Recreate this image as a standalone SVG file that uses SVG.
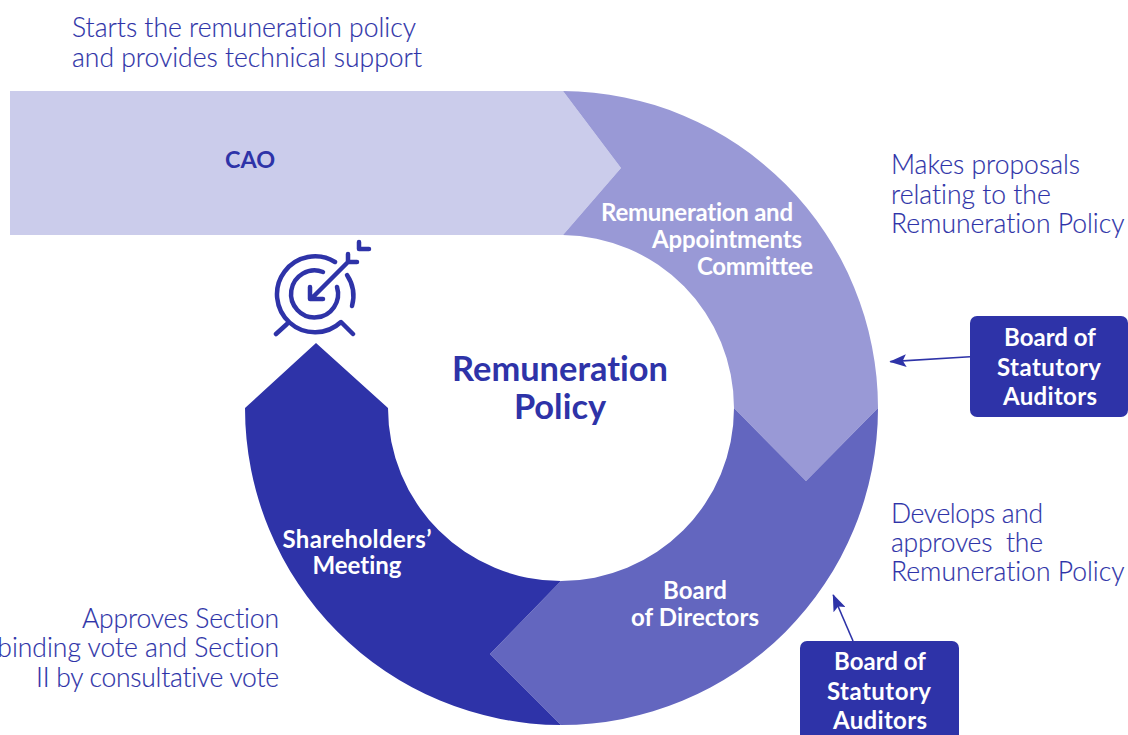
<svg xmlns="http://www.w3.org/2000/svg" width="1128" height="735" viewBox="0 0 1128 735">
<style>
text{font-family:"Lato","Noto Sans",sans-serif;font-variant-ligatures:none}
.d{font-size:26.5px;font-weight:300;fill:#2e33a8;stroke:#2e33a8;stroke-width:.15;white-space:pre}
.e{text-anchor:end}
.n{font-size:24px;font-weight:700;fill:#fff;text-anchor:middle}
.c{fill:#2e33a8;stroke:none}
.i{fill:none;stroke:#2e33a8;stroke-width:4.5;stroke-linecap:round;stroke-linejoin:round}
.k{fill:none;stroke:#2e33a8;stroke-width:1.6}
</style>
<defs><marker id="a" viewBox="0 0 17 13" refX="16" refY="6.500" markerWidth="17" markerHeight="13" markerUnits="userSpaceOnUse" orient="auto"><path d="M0 0L17 6.500L0 13L3.500 6.500Z" fill="#2e33a8"/></marker></defs>
<g id="cao"><path d="M10 91H563L621 168L563 235H10Z" fill="#cbcceb"/><text x="250" y="168" text-anchor="middle" font-size="23.400" font-weight="700" fill="#2e33a8">CAO</text></g>
<g id="committee"><path d="M563 91A317 317 0 0 1 878 408L806 481L734 408A173 173 0 0 0 563 235L621 168Z" fill="#9999d6"/><text class="n" x="697" y="221" textLength="192">Remuneration and</text><text class="n" x="727" y="248" textLength="150">Appointments</text><text class="n" x="755" y="275" textLength="116">Committee</text></g>
<g id="directors"><path d="M878 408A317 317 0 0 1 561 725L490 654L561 581A173 173 0 0 0 734 408L806 481Z" fill="#6366bf"/><text class="n" x="695" y="599">Board</text><text class="n" x="695" y="626" textLength="128">of Directors</text></g>
<g id="shareholders"><path d="M561 725A317 317 0 0 1 245 408L316 343L388 408A173 173 0 0 0 561 581L490 654Z" fill="#2e33a8"/><text class="n" x="357" y="548" textLength="149">Shareholders’</text><text class="n" x="357" y="574">Meeting</text></g>
<g id="icon"><path class="i" d="M335 262A38 38 0 1 0 341 322L353 334M287 324L276 334"/><path class="i" d="M347 275A38 38 0 0 1 352 306"/><path class="i" d="M323 272A23.500 23.500 0 1 0 337 287"/><path class="i" d="M312 298L347 263M310 287V299H323M348 254V262H357M359 242V249H369"/></g>
<g id="title"><text x="560" y="381" text-anchor="middle" font-size="34.400" font-weight="700" fill="#2e33a8">Remuneration</text><text x="560" y="419" text-anchor="middle" font-size="34.400" font-weight="700" fill="#2e33a8">Policy</text></g>
<g id="desc-cao"><text class="d" x="72" y="37">Starts the remuneration policy</text><text class="d" x="72" y="67">and provides technical support</text></g>
<g id="desc-committee"><text class="d" x="891" y="174">Makes proposals</text><text class="d" x="891" y="204">relating to the</text><text class="d" x="891" y="233">Remuneration Policy</text></g>
<g id="desc-directors"><text class="d" x="891" y="523" textLength="152">Develops and</text><text class="d" x="891" y="552" textLength="152">approves  the</text><text class="d" x="891" y="581">Remuneration Policy</text></g>
<g id="desc-shareholders"><text class="d e" x="279" y="628" textLength="197">Approves Section</text><text class="d e" x="279" y="657">binding vote and Section</text><text class="d e" x="279" y="687" textLength="243">II by consultative vote</text></g>
<g id="auditors-1"><rect class="c" x="970" y="316" width="158" height="101" rx="7"/><text class="n" x="1050" y="346">Board of</text><text class="n" x="1049" y="376" textLength="104">Statutory</text><text class="n" x="1050" y="405" textLength="94">Auditors</text></g>
<g id="auditors-2"><path class="c" d="M800 735V648a7 7 0 0 1 7-7H952a7 7 0 0 1 7 7V735Z"/><text class="n" x="880" y="670">Board of</text><text class="n" x="879" y="700" textLength="104">Statutory</text><text class="n" x="880" y="729" textLength="94">Auditors</text></g>
<g id="connectors"><path class="k" d="M970 356.700L890.300 361.600" marker-end="url(#a)"/><path class="k" d="M853 641L833.200 595" marker-end="url(#a)"/></g>
</svg>
